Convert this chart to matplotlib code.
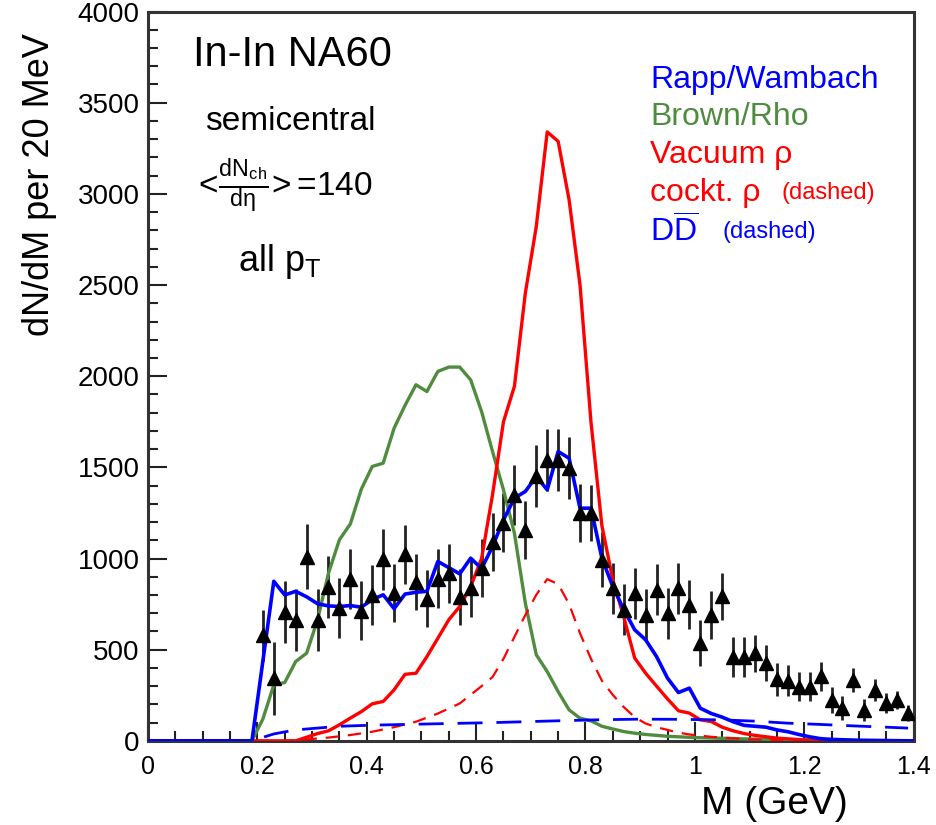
import matplotlib
matplotlib.use("Agg")
import matplotlib.pyplot as plt
from matplotlib.ticker import MultipleLocator

plt.rcParams["font.family"] = ["Liberation Sans", "DejaVu Sans"]
plt.rcParams["mathtext.fontset"] = "custom"
plt.rcParams["mathtext.rm"] = "Liberation Sans"
plt.rcParams["mathtext.it"] = "Liberation Sans"
plt.rcParams["mathtext.bf"] = "Liberation Sans:bold"

# NA60 In-In data points (20 MeV bins)
data_mass = [0.21, 0.23, 0.25, 0.27, 0.29, 0.31, 0.33, 0.35, 0.37, 0.39,
             0.41, 0.43, 0.45, 0.47, 0.49, 0.51, 0.53, 0.55, 0.57, 0.59,
             0.61, 0.63, 0.65, 0.67, 0.69, 0.71, 0.73, 0.75, 0.77, 0.79,
             0.81, 0.83, 0.85, 0.87, 0.89, 0.91, 0.93, 0.95, 0.97, 0.99,
             1.01, 1.03, 1.05, 1.07, 1.09, 1.11, 1.13, 1.15, 1.17, 1.19,
             1.21, 1.23, 1.25, 1.27, 1.29, 1.31, 1.33, 1.35, 1.37, 1.39]
data_yield = [580, 344, 709, 664, 1011, 662, 845, 728, 887, 714,
              798, 995, 810, 1023, 870, 780, 890, 918, 788, 837,
              947, 1089, 1197, 1349, 1157, 1450, 1541, 1541, 1496, 1249,
              1249, 993, 837, 719, 810, 691, 828, 700, 837, 746,
              536, 691, 792, 462, 462, 480, 426, 338, 329, 298,
              298, 353, 225, 179, 335, 170, 280, 210, 225, 152]
data_err = [140, 200, 170, 170, 180, 170, 170, 165, 165, 160,
            165, 165, 160, 160, 155, 155, 160, 160, 155, 155,
            160, 160, 160, 165, 160, 170, 170, 170, 170, 160,
            155, 150, 140, 140, 140, 140, 140, 140, 140, 135,
            125, 130, 130, 110, 110, 100, 100, 90, 85, 80,
            80, 80, 70, 65, 65, 60, 60, 55, 50, 45]

# Rapp/Wambach
rw_mass = [0.0, 0.19, 0.23, 0.25, 0.27, 0.29, 0.31, 0.33, 0.35, 0.37, 0.39,
           0.41, 0.43, 0.45, 0.47, 0.49, 0.51, 0.53, 0.55, 0.57, 0.59, 0.61,
           0.63, 0.65, 0.67, 0.69, 0.71, 0.73, 0.75, 0.77, 0.79, 0.81, 0.83,
           0.85, 0.87, 0.89, 0.91, 0.93, 0.95, 0.97, 0.99, 1.01, 1.03, 1.05,
           1.07, 1.09, 1.11, 1.13, 1.15, 1.17, 1.19, 1.21, 1.23, 1.25, 1.3, 1.4]
rw_yield = [0, 0, 875, 800, 820, 790, 752, 740, 737, 742, 733,
            775, 801, 725, 805, 815, 820, 984, 950, 916, 1002, 945,
            1066, 1212, 1331, 1368, 1450, 1377, 1587, 1550, 1276, 1276, 1002,
            846, 720, 609, 554, 462, 344, 265, 289, 179, 150, 130,
            105, 85, 80, 75, 60, 50, 35, 22, 12, 8, 3, 0]

# Brown/Rho
br_mass = [0.0, 0.19, 0.21, 0.23, 0.25, 0.27, 0.29, 0.31, 0.33, 0.35, 0.37,
           0.39, 0.41, 0.43, 0.45, 0.47, 0.49, 0.51, 0.53, 0.55, 0.57, 0.59,
           0.61, 0.63, 0.65, 0.67, 0.69, 0.71, 0.73, 0.75, 0.77, 0.79, 0.81,
           0.83, 0.85, 0.87, 0.89, 0.91, 0.95, 1.0, 1.1, 1.2, 1.3, 1.4]
br_yield = [0, 0, 120, 307, 320, 435, 481, 664, 920, 1103, 1190,
            1380, 1505, 1523, 1715, 1840, 1953, 1916, 2026, 2050, 2050, 1980,
            1806, 1587, 1377, 1139, 755, 472, 380, 270, 170, 124, 110,
            80, 65, 51, 42, 35, 25, 18, 10, 5, 2, 0]

# Vacuum rho
vac_mass = [0.0, 0.27, 0.29, 0.31, 0.33, 0.35, 0.37, 0.39, 0.41, 0.43, 0.45,
            0.47, 0.49, 0.51, 0.53, 0.55, 0.57, 0.59, 0.61, 0.63, 0.65, 0.67,
            0.69, 0.71, 0.73, 0.75, 0.77, 0.79, 0.81, 0.83, 0.85, 0.87, 0.89,
            0.91, 0.93, 0.95, 0.97, 0.99, 1.01, 1.03, 1.05, 1.07, 1.09, 1.11,
            1.15, 1.2, 1.25, 1.4]
vac_yield = [0, 0, 20, 40, 55, 88, 125, 160, 203, 216, 280,
             365, 371, 462, 563, 664, 737, 846, 1000, 1350, 1750, 1944,
             2456, 2821, 3340, 3288, 2968, 2500, 1750, 1180, 883, 680, 454,
             371, 300, 230, 165, 152, 115, 106, 75, 55, 40, 30,
             15, 5, 0, 0]

# cocktail rho (dashed)
cock_mass = [0.0, 0.25, 0.29, 0.33, 0.37, 0.41, 0.45, 0.49, 0.53, 0.57, 0.61,
             0.63, 0.65, 0.67, 0.69, 0.71, 0.73, 0.75, 0.77, 0.79, 0.81, 0.83,
             0.85, 0.87, 0.89, 0.91, 0.93, 0.95, 0.97, 0.99, 1.03, 1.07, 1.1,
             1.2, 1.4]
cock_yield = [0, 0, 8, 18, 32, 50, 75, 105, 150, 205, 300,
              350, 450, 570, 690, 801, 887, 860, 750, 590, 450, 330,
              252, 185, 130, 95, 75, 60, 45, 35, 22, 14, 8,
              2, 0]

# open charm DDbar (dashed)
dd_mass = [0.0, 0.19, 0.23, 0.27, 0.31, 0.35, 0.41, 0.47, 0.55, 0.63, 0.69,
           0.75, 0.83, 0.9, 0.97, 1.05, 1.11, 1.17, 1.23, 1.29, 1.35, 1.39]
dd_yield = [0, 0, 38, 60, 70, 80, 86, 90, 95, 100, 105,
            110, 116, 119, 118, 115, 108, 97, 90, 82, 75, 70]

BLUE = "#0000ff"
GREEN = "#4f8c3f"
RED = "#ff0000"

fig = plt.figure(figsize=(9.37, 8.25), dpi=100)
ax = fig.add_axes([0.158, 0.102, 0.817, 0.884])

ax.errorbar(data_mass, data_yield, yerr=data_err, fmt="none",
            ecolor="#222222", elinewidth=2.0, capsize=0, zorder=2)
ax.plot(rw_mass, rw_yield, color=BLUE, lw=2.6, zorder=4)
ax.plot(br_mass, br_yield, color=GREEN, lw=2.4, zorder=3)
ax.plot(vac_mass, vac_yield, color=RED, lw=2.4, zorder=3)
ax.plot(cock_mass, cock_yield, color=RED, lw=1.6, dashes=(6, 4), zorder=3)
ax.plot(dd_mass, dd_yield, color=BLUE, lw=2.0, dashes=(9, 5), zorder=3)
ax.plot(data_mass, data_yield, "^", color="black", markersize=10, zorder=5)

ax.set_xlim(0, 1.4)
ax.set_ylim(0, 4000)
ax.xaxis.set_minor_locator(MultipleLocator(0.05))
ax.yaxis.set_major_locator(MultipleLocator(500))
ax.yaxis.set_minor_locator(MultipleLocator(100))
ax.set_xticks([0, 0.2, 0.4, 0.6, 0.8, 1.0, 1.2, 1.4])
ax.set_xticklabels(["0", "0.2", "0.4", "0.6", "0.8", "1", "1.2", "1.4"])
ax.tick_params(axis="both", which="major", direction="in", length=14,
               width=1.5, colors="#222222", labelcolor="black")
ax.tick_params(axis="both", which="minor", direction="in", length=7,
               width=1.5, colors="#222222")
ax.tick_params(axis="x", pad=10, labelsize=18)
ax.tick_params(axis="y", pad=6, labelsize=20)
for sp in ax.spines.values():
    sp.set_linewidth(2.2)
    sp.set_color("#333333")

ax.set_xlabel("M (GeV)", fontsize=28, loc="right")
ax.xaxis.set_label_coords(0.914, -0.062)
ax.set_ylabel("dN/dM per 20 MeV", fontsize=26, loc="top")
ax.yaxis.set_label_coords(-0.119, 0.971)

ax.text(0.082, 3763, "In-In NA60", fontsize=30, va="center")
ax.text(0.104, 3395, "semicentral", fontsize=24, va="center")
ax.text(0.082, 3044, r"$<\!\frac{dN_{ch}}{d\eta}\!>$=140", fontsize=24, va="center")
ax.text(0.165, 2628, r"all p$_{\mathregular{T}}$", fontsize=26, va="center")

ax.text(0.918, 3626, "Rapp/Wambach", color=BLUE, fontsize=23, va="center")
ax.text(0.918, 3423, "Brown/Rho", color=GREEN, fontsize=23, va="center")
ax.text(0.918, 3214, "Vacuum ρ", color=RED, fontsize=23, va="center")
ax.text(0.918, 3006, "cockt. ρ", color=RED, fontsize=23, va="center")
ax.text(1.159, 3006, "(dashed)", color=RED, fontsize=17, va="center")
ax.text(0.918, 2792, r"D$\overline{\mathregular{D}}$", color=BLUE, fontsize=23, va="center")
ax.text(1.051, 2792, "(dashed)", color=BLUE, fontsize=17, va="center")

fig.savefig("out.png", dpi=100)
